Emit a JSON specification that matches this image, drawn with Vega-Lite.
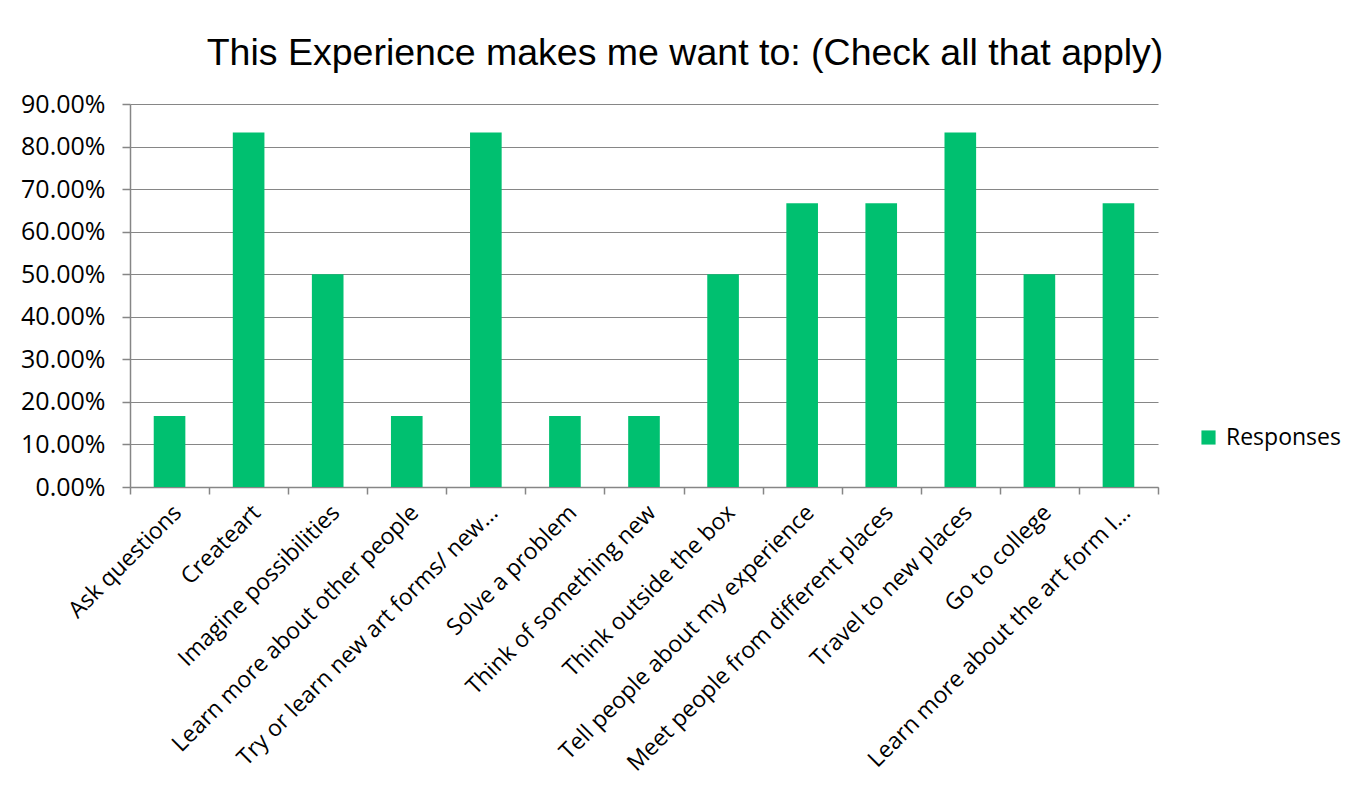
{
  "$schema": "https://vega.github.io/schema/vega-lite/v6.json",
  "autosize": {"type": "none"},
  "width": 1028,
  "height": 383,
  "padding": {"left": 130, "top": 104, "right": 211, "bottom": 315},
  "background": "white",
  "title": {
    "text": "This Experience makes me want to: (Check all that apply)",
    "font": "Liberation Sans",
    "fontSize": 37.5,
    "fontWeight": "normal",
    "color": "#000000",
    "anchor": "middle",
    "frame": "group",
    "dx": 41,
    "offset": 20
  },
  "data": {
    "values": [
      {"item": "Ask questions", "value": 0.1667, "series": "Responses"},
      {"item": "Createart", "value": 0.8333, "series": "Responses"},
      {"item": "Imagine possibilities", "value": 0.5, "series": "Responses"},
      {"item": "Learn more about other people", "value": 0.1667, "series": "Responses"},
      {"item": "Try or learn new art forms/ new…", "value": 0.8333, "series": "Responses"},
      {"item": "Solve a problem", "value": 0.1667, "series": "Responses"},
      {"item": "Think of something new", "value": 0.1667, "series": "Responses"},
      {"item": "Think outside the box", "value": 0.5, "series": "Responses"},
      {"item": "Tell people about my experience", "value": 0.6667, "series": "Responses"},
      {"item": "Meet people from different places", "value": 0.6667, "series": "Responses"},
      {"item": "Travel to new places", "value": 0.8333, "series": "Responses"},
      {"item": "Go to college", "value": 0.5, "series": "Responses"},
      {"item": "Learn more about the art form I…", "value": 0.6667, "series": "Responses"}
    ]
  },
  "mark": {"type": "bar", "width": {"band": 0.4}},
  "encoding": {
    "x": {
      "field": "item",
      "type": "nominal",
      "sort": null,
      "title": null,
      "scale": {"paddingInner": 0, "paddingOuter": 0},
      "axis": {
        "labelAngle": -45,
        "labelAlign": "right",
        "labelBaseline": "top",
        "labelFont": "Open Sans",
        "labelFontSize": 23,
        "labelColor": "#000000",
        "labelLimit": 500,
        "labelPadding": 7,
        "tickBand": "extent",
        "tickSize": 7,
        "tickColor": "#868686",
        "domainColor": "#868686",
        "tickWidth": 1.5,
        "domainWidth": 1.5
      }
    },
    "y": {
      "field": "value",
      "type": "quantitative",
      "title": null,
      "scale": {"domain": [0, 0.9], "nice": false},
      "axis": {
        "format": ".2%",
        "values": [0, 0.1, 0.2, 0.3, 0.4, 0.5, 0.6, 0.7, 0.8, 0.9],
        "labelFont": "Open Sans",
        "labelFontSize": 25,
        "labelColor": "#000000",
        "labelPadding": 17,
        "tickSize": 8,
        "tickColor": "#868686",
        "gridColor": "#868686",
        "domainColor": "#868686",
        "gridWidth": 1.2,
        "tickWidth": 1.5,
        "domainWidth": 1.5
      }
    },
    "color": {
      "field": "series",
      "type": "nominal",
      "scale": {"range": ["#00C070"]},
      "legend": {
        "title": null,
        "orient": "none",
        "legendX": 1067,
        "legendY": 322,
        "symbolType": "square",
        "symbolSize": 200,
        "symbolStrokeWidth": 0,
        "labelFont": "Open Sans",
        "labelFontSize": 23,
        "labelColor": "#000000",
        "labelOffset": 6
      }
    }
  },
  "config": {
    "view": {"stroke": null}
  }
}
